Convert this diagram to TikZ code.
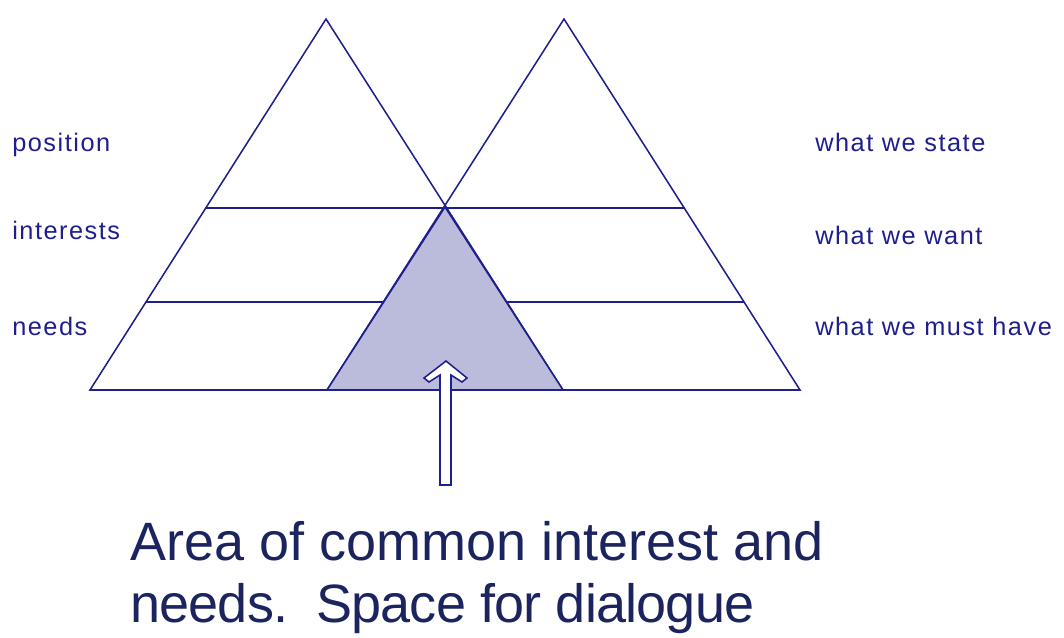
\documentclass[tikz,border=0pt]{standalone}
\usepackage{fontspec}
\setmainfont{Liberation Sans}
\newfontfamily\labelfont[LetterSpace=6]{Liberation Sans}
\usepackage{xcolor}
\definecolor{navyline}{RGB}{30,30,140}
\definecolor{navytext}{RGB}{28,36,96}
\definecolor{commonfill}{RGB}{187,187,219}

\begin{document}
\begin{tikzpicture}[x=0.75pt,y=0.75pt,yscale=-1,xscale=1]
\tikzset{
  tri/.style={draw=navyline, line width=1.15pt, line join=miter},
  lvl/.style={anchor=base west, inner sep=0pt, text=navyline, font=\labelfont\fontsize{19}{20}\selectfont},
}
\path (0,0) rectangle (1064,637); %set diagram size

% corners
\coordinate (posApex) at (326,19);
\coordinate (posLeft) at (90,390);
\coordinate (posRight) at (563,390);
\coordinate (stateApex) at (564,19);
\coordinate (stateLeft) at (327,390);
\coordinate (stateRight) at (800,390);
\coordinate (common) at (445,207);

%Shape: Triangle [id:left] 
\draw [tri] (posApex) -- (posRight) -- (posLeft) -- cycle ;
%Shape: Triangle [id:right] 
\draw [tri] (stateApex) -- (stateRight) -- (stateLeft) -- cycle ;
%Straight Lines [id:levels] 
\draw [tri] (205,208) -- (684,208) ;
\draw [tri] (146,302) -- (744,302) ;
%Shape: Triangle [id:common] 
\draw [tri, fill=commonfill] (common) -- (posRight) -- (stateLeft) -- cycle ;
%Shape: Up Arrow [id:arrow] 
\draw [draw=navyline, line width=1.15pt, fill=white] (440,485) -- (451,485) -- (451,375) -- (462,382) -- (467,378) -- (446,361) -- (424,378) -- (429,382) -- (440,375) -- cycle ;

% Text Node
\node [lvl] (position) at (12,151) {position};
% Text Node
\node [lvl] (interests) at (12,239) {interests};
% Text Node
\node [lvl] (needs) at (12,335) {needs};
% Text Node
\node [lvl] (state) at (815,151) {what we state};
% Text Node
\node [lvl] (want) at (815,244) {what we want};
% Text Node
\node [lvl] (musthave) at (815,335) {what we must have};
% Text Node
\node [anchor=base west, inner sep=0pt, text=navytext, font=\fontsize{40.5}{44}\selectfont, align=left] (dialogue) at (130,622) {Area of common interest and\\[2.5pt]{\addfontfeature{LetterSpace=-1.5}needs.\, Space for dialogue}};

\end{tikzpicture}
\end{document}
